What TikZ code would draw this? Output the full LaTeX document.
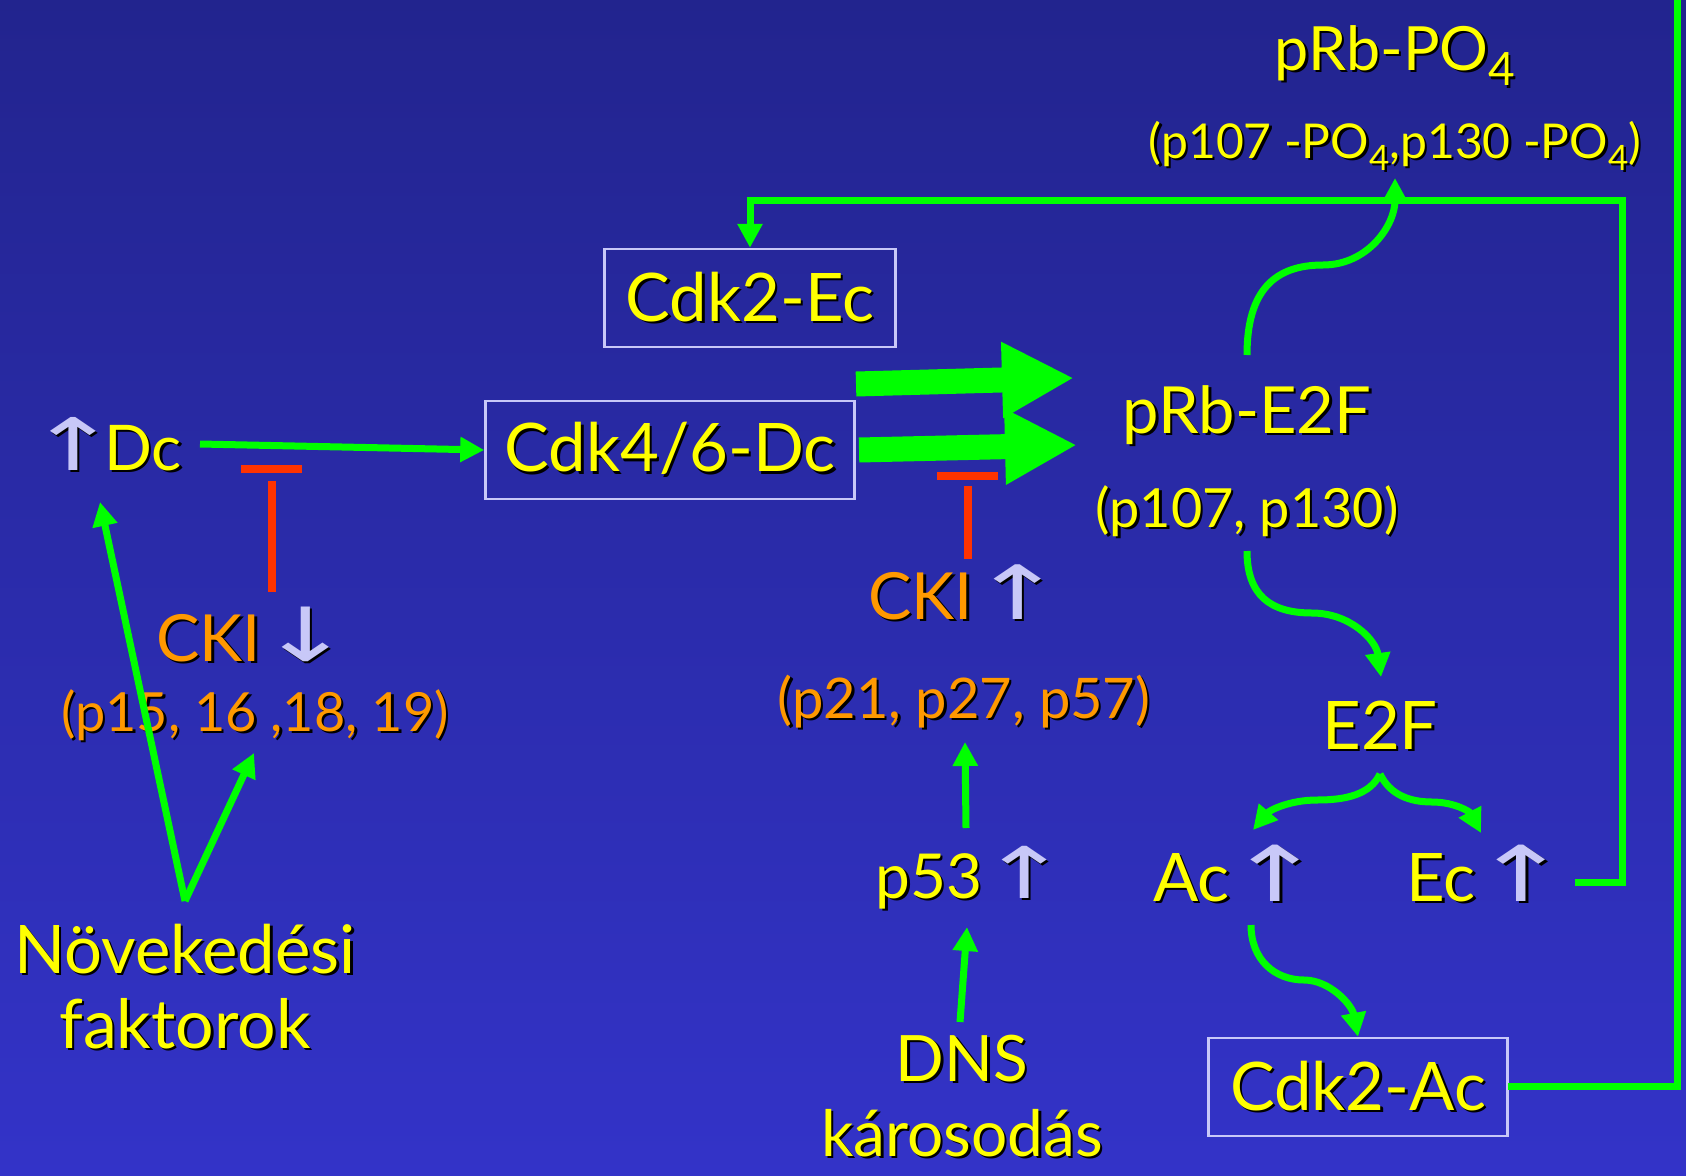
\documentclass[tikz,border=0pt]{standalone}
\usepackage{fontspec}
\usepackage{graphicx}
\setmainfont{Lato}
\newfontfamily\symfont{DejaVu Sans}
\usetikzlibrary{arrows.meta}
\definecolor{bgtop}{RGB}{34,36,142}
\definecolor{bgbot}{RGB}{51,51,200}
\definecolor{ylw}{RGB}{255,255,0}
\definecolor{org}{RGB}{255,153,0}
\definecolor{grn}{RGB}{0,255,0}
\definecolor{lav}{RGB}{200,200,248}
\definecolor{rd}{RGB}{255,51,0}
\newcommand\shd[1]{\leavevmode\rlap{\kern2.5pt\raisebox{-2.5pt}{\color{black}#1}}#1}
\newcommand\fs[1]{\fontsize{#1}{#1}\selectfont}
\newcommand\uparr{{\symfont\color{lav}\shd{\scalebox{1.7}[1.15]{↑}}}}
\newcommand\dnarr{{\symfont\color{lav}\shd{\scalebox{1.7}[1.15]{↓}}}}
\newcommand\gap{\hspace{-2pt}}
\newcommand\subf[1]{\raisebox{-0.26em}{\fs{#1}4}}
\begin{document}
\begin{tikzpicture}[x=1pt,y=-1pt,
  lbl/.style={inner sep=0pt, anchor=base, text=ylw},
  olbl/.style={lbl, text=org},
  box/.style={draw=lav, line width=2.5pt, minimum height=98pt, inner sep=0pt, text=ylw},
  gline/.style={draw=grn, line width=7pt},
  garrow/.style={gline, -{Triangle[length=24pt,width=24pt]}},
  bigarrow/.style={draw=grn, line width=25pt, -{Triangle[length=72pt,width=71pt]}},
  redl/.style={draw=rd, line width=8pt}]
\shade[top color=bgtop,bottom color=bgbot] (0,0) rectangle (1686,1175);
\useasboundingbox (0,0) rectangle (1686,1175);

% boxes
\node[box, minimum width=291pt] (cdk2ec) at (750,298) {\fs{67}\shd{Cdk2-Ec}};
\node[box, minimum width=369pt] (cdk46) at (670,450) {\fs{67}\shd{Cdk4/6-Dc}};
\node[box, minimum width=299pt] (cdk2ac) at (1358,1087) {\fs{67}\shd{Cdk2-Ac}};

% labels
\node[lbl] (prbpo4) at (1395,70) {\fs{61}\shd{pRb-PO\subf{46}}};
\node[lbl] (prbpo4s) at (1395,158) {\fs{48}\shd{(p107 -PO\subf{35},p130 -PO\subf{35})}};
\node[lbl] (prbe2f) at (1247,433) {\fs{65}\shd{pRb-E2F}};
\node[lbl] (prbe2fs) at (1247,527) {\fs{54}\shd{(p107, p130)}};
\node[lbl] (e2f) at (1380,749) {\fs{67}\shd{E2F}};
\node[lbl] (ac) at (1238,901) {\fs{67}\shd{Ac}\gap\uparr};
\node[lbl] (ec) at (1488,901) {\fs{67}\shd{Ec}\gap\uparr};
\node[lbl] (p53) at (972,898) {\fs{62}\shd{p53}\gap\uparr};
\node[olbl] (cki2) at (966,619) {\fs{65}\shd{CKI}\gap\uparr};
\node[olbl] (cki2s) at (964,718) {\fs{56}\shd{(p21, p27, p57)}};
\node[lbl] (dns) at (962,1081) {\fs{64}\shd{DNS}};
\node[lbl] (karos) at (962,1156) {\fs{64}\shd{károsodás}};
\node[lbl] (dc) at (105,470) {\fs{63}\uparr\kern-14pt\shd{Dc}};
\node[olbl] (cki1) at (254,661) {\fs{65}\shd{CKI}\gap\dnarr};
\node[olbl] (cki1s) at (255,731) {\fs{54}\shd{(p15, 16 ,18, 19)}};
\node[lbl] (nov) at (185,973) {\fs{67}\shd{Növekedési}};
\node[lbl] (fak) at (185,1048) {\fs{68}\shd{faktorok}};

% coordinates
\coordinate (dcout) at (200,444);
\coordinate (t1a) at (241,469);
\coordinate (t1b) at (302,469);
\coordinate (t1s) at (272,481);
\coordinate (t1e) at (272,592);
\coordinate (t2a) at (937,476);
\coordinate (t2b) at (998,476);
\coordinate (t2s) at (968,486);
\coordinate (t2e) at (968,559);
\coordinate (nv) at (185,901);
\coordinate (dcin) at (100,502);
\coordinate (ckin) at (254,753);
\coordinate (ba1s) at (856,384);
\coordinate (ba1e) at (1074,378);
\coordinate (ba2s) at (859,450);
\coordinate (ba2e) at (1077,445);
\coordinate (e2fa) at (1380,774);
\coordinate (ecout) at (1575,882);
\coordinate (acout) at (1508,1086);

% connectors
\draw[garrow] (dcout) -- (cdk46.west);
\draw[redl] (t1a) -- (t1b);
\draw[redl] (t1e) -- (t1s);
\draw[redl] (t2a) -- (t2b);
\draw[redl] (t2e) -- (t2s);
\draw[garrow] (nv) -- (dcin);
\draw[garrow] (nv) -- (ckin);
\draw[bigarrow] (ba1s) -- (ba1e);
\draw[bigarrow] (ba2s) -- (ba2e);
\draw[garrow] (1247,355) .. controls (1247,290) and (1275,265) .. (1323,265) .. controls (1368,265) and (1395,225) .. (1395,178);
\draw[garrow] (1247,551) .. controls (1247,595) and (1270,613) .. (1312,613) .. controls (1350,613) and (1376,640) .. (1381,677);
\draw[garrow] (e2fa) .. controls (1370,795) and (1345,800) .. (1317,800) .. controls (1290,800) and (1270,810) .. (1253,830);
\draw[garrow] (e2fa) .. controls (1390,795) and (1410,802) .. (1432,802) .. controls (1455,802) and (1470,812) .. (1481,833);
\draw[garrow] (1251,925) .. controls (1251,960) and (1275,980) .. (1304,980) .. controls (1330,980) and (1352,1005) .. (cdk2ac.north);
\draw[garrow] (966,828) -- (965,742);
\draw[garrow] (960,1022) -- (967,927);
\draw[gline, -{Triangle[length=24pt,width=24pt]}] (ecout) -- (1622,882) -- (1622,200) -- (cdk2ec.north |- 0,200) -- (cdk2ec.north);
\draw[gline] (acout) -- (1677,1086) -- (1677,-5);
\end{tikzpicture}
\end{document}
